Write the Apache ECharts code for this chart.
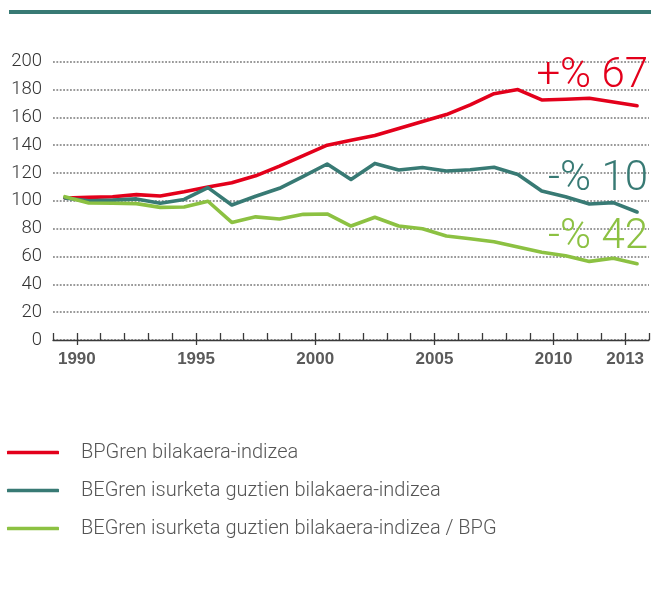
<!DOCTYPE html>
<html>
<head>
<meta charset="utf-8">
<script src="https://cdn.jsdelivr.net/npm/echarts@6/dist/echarts.min.js"></script>
<style>
html,body{margin:0;padding:0;background:#fff;}
#chart{width:651px;height:613px;}
</style>
</head>
<body>
<div id="chart"></div>
<script>
// Year bands (each value is drawn at the middle of its year band)
const categories = ['1989','1990','1991','1992','1993','1994','1995','1996','1997','1998','1999','2000','2001','2002','2003','2004','2005','2006','2007','2008','2009','2010','2011','2012','2013'];
const tickLabels = [1990, 1995, 2000, 2005, 2010, 2013];
const seriesNames = ['BPGren bilakaera-indizea', 'BEGren isurketa guztien bilakaera-indizea', 'BEGren isurketa guztien bilakaera-indizea / BPG'];
const bpg = [102, 102.5, 103, 104.5, 103.5, 106.5, 110, 113, 118, 125, 132.5, 140, 143.5, 147, 152, 157, 162, 169, 177, 180, 172.5, 173, 173.7, 171, 168.4];
const beg = [102, 100, 100.5, 101.4, 98.3, 101, 109.5, 97, 103.3, 109, 117.6, 126.5, 115.4, 126.9, 122.2, 124, 121.5, 122.4, 124.2, 119, 107.1, 103, 97.7, 98.7, 92];
const begBpg = [103, 98.5, 98.3, 98, 95.3, 95.6, 99.7, 84.5, 88.5, 87, 90.3, 90.6, 81.9, 88.2, 81.9, 80, 74.8, 72.8, 70.6, 66.8, 63, 60.6, 56.5, 58.7, 54.8];
const changeLabels = ['+% 67', '-% 10', '-% 42'];

const colors = ['#e3001b', '#387a74', '#8cc142'];
const thinFont = 'Roboto';

const chart = echarts.init(document.getElementById('chart'), null, {renderer: 'canvas'});
const mkSeries = (name, data, color) => ({
  name: name, type: 'line', xAxisIndex: 0, yAxisIndex: 0, data: data,
  symbol: 'none', smooth: false, color: color,
  lineStyle: {width: 3.6, color: color, cap: 'round', join: 'round'},
  emphasis: {disabled: true}, animation: false
});

const option = {
  animation: false,
  grid: {left: 53, right: 2, top: 61.7, bottom: 273, containLabel: false},
  xAxis: [
    {type: 'category', data: categories, boundaryGap: true, position: 'bottom', show: false},
    {type: 'value', min: 1989, max: 2014, interval: 1, position: 'bottom',
     axisLine: {show: true, onZero: false, lineStyle: {color: '#3a3a3a', width: 1.3}},
     axisTick: {show: true, inside: true, length: 7, lineStyle: {color: '#3a3a3a', width: 1.3}},
     axisLabel: {show: false}, splitLine: {show: false}},
    {type: 'value', min: 1989, max: 2014, position: 'bottom',
     axisLine: {show: false, onZero: false},
     axisTick: {show: true, inside: false, length: 5, customValues: tickLabels, lineStyle: {color: '#3a3a3a', width: 1.3}},
     axisLabel: {show: true, customValues: tickLabels, margin: 11, color: '#5a5a5a', fontFamily: 'Liberation Sans', fontWeight: 'bold', fontSize: 17,
                 formatter: v => String(v)},
     splitLine: {show: false}}
  ],
  yAxis: {
    type: 'value', min: 0, max: 200, interval: 20,
    axisLine: {show: false}, axisTick: {show: false},
    axisLabel: {color: '#333', fontFamily: thinFont, fontWeight: 300, fontSize: 18.5, margin: 11},
    splitLine: {show: true, lineStyle: {color: '#9a9a9a', width: 2, type: [1.8, 1.6], cap: 'butt'}}
  },
  legend: {
    orient: 'vertical', left: 7, top: 441, padding: 0,
    itemWidth: 52, itemHeight: 3.6, itemGap: 15,
    icon: 'roundRect',
    data: seriesNames,
    textStyle: {color: '#555', fontFamily: thinFont, fontWeight: 300, fontSize: 20, lineHeight: 23, padding: [0, 0, 0, 17]},
    selectedMode: false
  },
  graphic: [
    {type: 'rect', shape: {x: 9, y: 10, width: 642, height: 4}, style: {fill: '#387a74'}, silent: true},
    {type: 'text', right: 3, top: 55, z: 10, style: {text: changeLabels[0], fill: colors[0], font: '300 42px Roboto'}, silent: true},
    {type: 'text', right: 3, top: 158, z: 10, style: {text: changeLabels[1], fill: colors[1], font: '300 42px Roboto'}, silent: true},
    {type: 'text', right: 3, top: 216, z: 10, style: {text: changeLabels[2], fill: colors[2], font: '300 42px Roboto'}, silent: true}
  ],
  series: [
    mkSeries(seriesNames[0], bpg, colors[0]),
    mkSeries(seriesNames[1], beg, colors[1]),
    mkSeries(seriesNames[2], begBpg, colors[2])
  ]
};
chart.setOption(option);
</script>
</body>
</html>
